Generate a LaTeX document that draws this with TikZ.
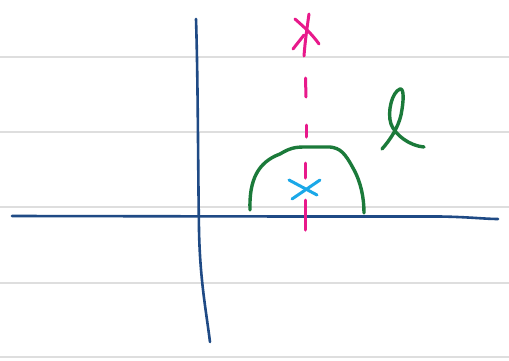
\documentclass[tikz,border=0pt]{standalone}
\begin{document}
\begin{tikzpicture}[x=1pt,y=-1pt,line cap=round,line join=round,
  ruled/.style={draw=black!13,line width=1.3pt},
  axis/.style={draw=axisblue,line width=2.6pt},
  pinkline/.style={draw=hotpink,line width=3pt},
  greenline/.style={draw=penGreen,line width=3.4pt},
  cyanline/.style={draw=starblue,line width=3pt}]
\definecolor{axisblue}{HTML}{1F4A85}
\definecolor{hotpink}{HTML}{E8198B}
\definecolor{penGreen}{HTML}{1B7A3A}
\definecolor{starblue}{HTML}{1BA8E8}
\useasboundingbox (0,0) rectangle (509,360);
\fill[white] (0,0) rectangle (509,360);
% notebook rules
\foreach \yy in {57,132,207,283,357} \draw[ruled] (0,\yy) -- (509,\yy);
% axes
\draw[axis] (12,216) -- (300,216.5) -- (440,216.5) .. controls (470,217) and (485,219) .. (498,219);
\draw[axis] (196,19) .. controls (198,80) and (198,170) .. (199,230) .. controls (200,280) and (206,310) .. (210,342);
% pink dashed line with cross at top
\draw[pinkline] (305.5,78) -- (306,97);
\draw[pinkline] (306,125) -- (306,137);
\draw[pinkline] (305,163) -- (305,178);
\draw[pinkline] (305,200) -- (305,230);
\draw[pinkline] (309,14) .. controls (307,28) and (305,42) .. (304,56);
\draw[pinkline] (295,19) .. controls (304,27) and (312,34) .. (319,44);
\draw[pinkline] (293,49) -- (304,35);
% cyan star
\draw[cyanline] (289,180) -- (317,195);
\draw[cyanline] (320,180) -- (292,199);
% green contour
\draw[greenline] (250,210) .. controls (249,180) and (258,162) .. (280,154)
  .. controls (290,148) and (295,147) .. (305,147) -- (330,147)
  .. controls (340,148) and (345,153) .. (353,168)
  .. controls (361,182) and (364,198) .. (364,213);
% green script l
\draw[greenline] (382,149) .. controls (390,140) and (398,128) .. (401,115)
  .. controls (404,100) and (404,88) .. (400,89)
  .. controls (392,92) and (387,112) .. (391,124)
  .. controls (395,135) and (410,146) .. (424,147);
\end{tikzpicture}
\end{document}
